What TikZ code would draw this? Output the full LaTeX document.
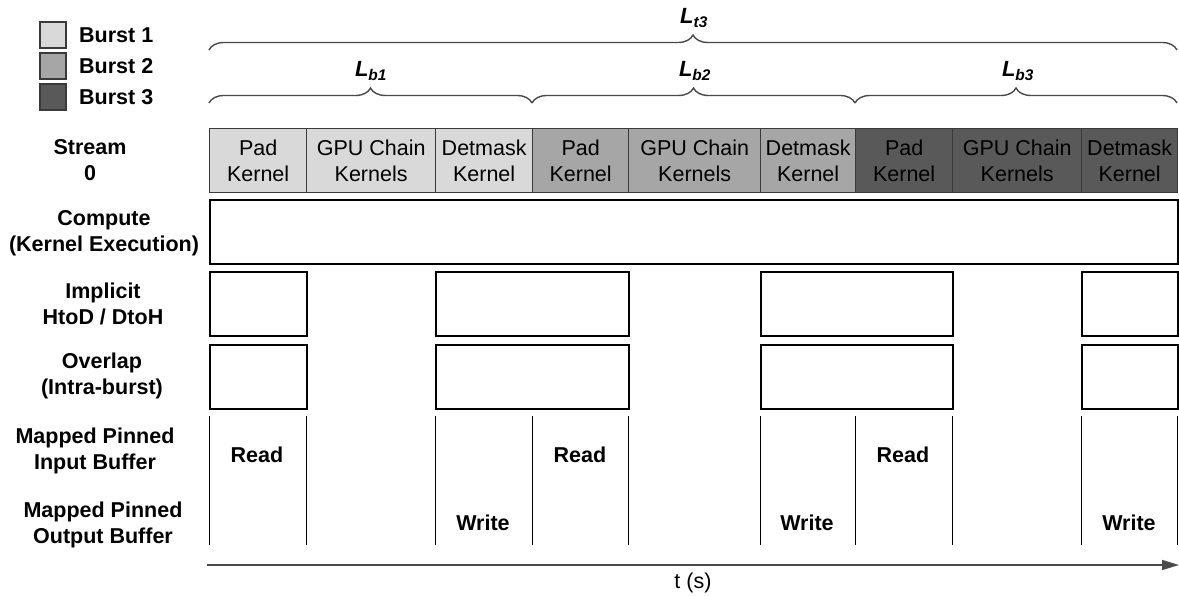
\documentclass[tikz,border=0pt]{standalone}
\usepackage{fontspec}
\setmainfont{Liberation Sans}
\usetikzlibrary{decorations.pathreplacing,arrows.meta}
\definecolor{burstA}{HTML}{D9D9D9}
\definecolor{burstB}{HTML}{A6A6A6}
\definecolor{burstC}{HTML}{595959}
\definecolor{edgegray}{HTML}{3A3A3A}
\definecolor{bracegray}{HTML}{4A4A4A}
\begin{document}
\begin{tikzpicture}[x=1pt,y=-1pt,
  swatch/.style={draw=edgegray, line width=1.2pt, minimum size=26pt, inner sep=0pt},
  legtext/.style={font=\bfseries\fontsize{21.5}{25}\selectfont, anchor=west, inner sep=3pt},
  rowlab/.style={font=\bfseries\fontsize{21.5}{26.5}\selectfont, align=center},
  kern/.style={draw=edgegray, line width=1.3pt, minimum height=64pt, inner sep=0pt,
    anchor=north west, align=center, font=\fontsize{21.5}{26}\selectfont},
  slot/.style={draw=black, line width=2.4pt, minimum height=64pt, inner sep=0pt, anchor=north west},
  tick/.style={draw=black, line width=1pt},
  bufword/.style={font=\bfseries\fontsize{21.5}{25}\selectfont},
  spanlab/.style={font=\bfseries\itshape\fontsize{22}{25}\selectfont},
  bracket/.style={decorate, decoration={brace, amplitude=15pt}, draw=bracegray, line width=1.4pt},
  axis/.style={draw=bracegray, line width=1.4pt, -{Triangle[length=17pt,width=10pt]}}
]
\useasboundingbox (0,0) rectangle (1179,596);

% legend
\node[swatch, fill=burstA] (sw1) at (53,35) {};
\node[swatch, fill=burstB] (sw2) at (53,66) {};
\node[swatch, fill=burstC] (sw3) at (53,97) {};
\node[legtext] (lg1) at (76,35) {Burst 1};
\node[legtext] (lg2) at (76,66) {Burst 2};
\node[legtext] (lg3) at (76,97) {Burst 3};

% spans of the whole run and of each burst
\coordinate (t3a) at (209,50);
\coordinate (t3b) at (1177,50);
\coordinate (b0) at (209,103);
\coordinate (b1) at (532,103);
\coordinate (b2) at (855,103);
\coordinate (b3) at (1177,103);
\draw[bracket] (t3a) -- (t3b);
\draw[bracket] (b0) -- (b1);
\draw[bracket] (b1) -- (b2);
\draw[bracket] (b2) -- (b3);
\node[spanlab] (Lt3) at (694,18) {L\textsubscript{t3}};
\node[spanlab] (Lb1) at (371,71) {L\textsubscript{b1}};
\node[spanlab] (Lb2) at (695,71) {L\textsubscript{b2}};
\node[spanlab] (Lb3) at (1018,71) {L\textsubscript{b3}};

% row labels
\node[rowlab] (rStream) at (90,160) {Stream\\0};
\node[rowlab] (rCompute) at (104,233) {Compute\\(Kernel Execution)};
\node[rowlab] (rImplicit) at (103,304) {Implicit\\HtoD / DtoH};
\node[rowlab] (rOverlap) at (102,376) {Overlap\\(Intra-burst)};
\node[rowlab] (rIn) at (95,451) {Mapped Pinned\\Input Buffer};
\node[rowlab] (rOut) at (103,525) {Mapped Pinned\\Output Buffer};

% stream 0 kernels
\node[kern, fill=burstA, minimum width=97pt]  (k1) at (209,128) {Pad\\Kernel};
\node[kern, fill=burstA, minimum width=129pt] (k2) at (306,128) {GPU Chain\\Kernels};
\node[kern, fill=burstA, minimum width=97pt]  (k3) at (435,128) {Detmask\\Kernel};
\node[kern, fill=burstB, minimum width=96pt]  (k4) at (532,128) {Pad\\Kernel};
\node[kern, fill=burstB, minimum width=132pt] (k5) at (628,128) {GPU Chain\\Kernels};
\node[kern, fill=burstB, minimum width=95pt]  (k6) at (760,128) {Detmask\\Kernel};
\node[kern, fill=burstC, minimum width=97pt]  (k7) at (855,128) {Pad\\Kernel};
\node[kern, fill=burstC, minimum width=129pt] (k8) at (952,128) {GPU Chain\\Kernels};
\node[kern, fill=burstC, minimum width=96pt]  (k9) at (1081,128) {Detmask\\Kernel};

% compute row
\node[slot, minimum width=968pt] (cmp) at (209,199) {};

% implicit transfers
\node[slot, minimum width=97pt]  (im1) at (209,271) {};
\node[slot, minimum width=193pt] (im2) at (435,271) {};
\node[slot, minimum width=192pt] (im3) at (760,271) {};
\node[slot, minimum width=96pt]  (im4) at (1081,271) {};

% intra-burst overlap
\node[slot, minimum width=97pt]  (ov1) at (209,344) {};
\node[slot, minimum width=193pt] (ov2) at (435,344) {};
\node[slot, minimum width=192pt] (ov3) at (760,344) {};
\node[slot, minimum width=96pt]  (ov4) at (1081,344) {};

% mapped buffer lanes
\foreach \x in {209,306,435,532,628,760,855,952,1081,1177}
  \draw[tick] (\x,416) -- (\x,545);
\node[bufword] (rd1) at (257,455) {Read};
\node[bufword] (rd2) at (580,455) {Read};
\node[bufword] (rd3) at (903,455) {Read};
\node[bufword] (wr1) at (483,523) {Write};
\node[bufword] (wr2) at (807,523) {Write};
\node[bufword] (wr3) at (1129,523) {Write};

% time axis
\coordinate (ax0) at (207,565);
\coordinate (ax1) at (1179,565);
\draw[axis] (ax0) -- (ax1);
\node[font=\fontsize{21.5}{25}\selectfont] (tlab) at (693,583) {t (s)};
\end{tikzpicture}
\end{document}
